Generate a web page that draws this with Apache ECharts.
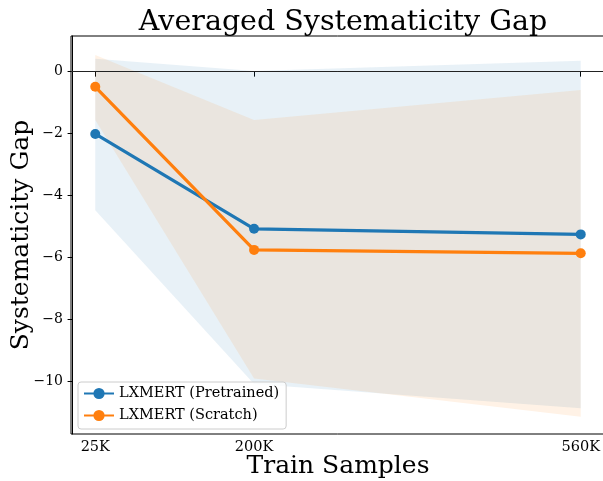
<!DOCTYPE html>
<html>
<head>
<meta charset="utf-8">
<script src="https://cdn.jsdelivr.net/npm/echarts@6/dist/echarts.min.js"></script>
<style>html,body{margin:0;padding:0;background:#fff}#main{width:603px;height:481px}</style>
</head>
<body>
<div id="main"></div>
<script>
// train samples in thousands
var samples = [25, 200, 560];
var pretrainedMean = [-2.01, -5.07, -5.25];
var pretrainedLow = [-4.47, -10.08, -10.86];
var pretrainedHigh = [0.42, 0.02, 0.355];
var scratchMean = [-0.49, -5.75, -5.86];
var scratchLow = [-1.56, -9.9, -11.13];
var scratchHigh = [0.54, -1.56, -0.59];
var xTicks = [25, 200, 560];
var yTicks = [-10, -8, -6, -4, -2, 0];

var serif = 'DejaVu Serif';

function pairs(ys) {
    return samples.map(function (x, i) { return [x, ys[i]]; });
}
// shaded band between lo and hi, drawn as one polygon through the axes
function band(name, lo, hi, color) {
    return {
        name: name, type: 'custom', silent: true, z: 1,
        data: samples.map(function (x, i) { return [x, lo[i], hi[i]]; }),
        encode: {x: 0, y: [1, 2]},
        renderItem: function (params, api) {
            if (params.dataIndex !== 0) return;
            var pts = [];
            samples.forEach(function (x, i) { pts.push(api.coord([x, hi[i]])); });
            for (var i = samples.length - 1; i >= 0; i--) pts.push(api.coord([samples[i], lo[i]]));
            return {type: 'polygon', shape: {points: pts}, style: {fill: color}};
        }
    };
}

var myChart = echarts.init(document.getElementById('main'));
myChart.setOption({
    animation: false,
    title: {
        text: 'Averaged Systematicity Gap',
        left: 338, top: 3, textAlign: 'center',
        textStyle: {fontFamily: serif, fontSize: 28.5, fontWeight: 'normal', color: '#000'}
    },
    grid: {
        left: 71, right: -2, top: 36, bottom: 47,
        outerBoundsMode: 'none',
        show: true, borderColor: '#000', borderWidth: 1
    },
    legend: {
        data: ['LXMERT (Pretrained)', 'LXMERT (Scratch)'],
        orient: 'vertical', left: 78, top: 382,
        itemWidth: 30, itemHeight: 14, itemGap: 7, itemTextGap: 10,
        padding: [4, 7, 6, 5],
        borderColor: '#ccc', borderWidth: 1, borderRadius: 3,
        backgroundColor: 'rgba(255,255,255,0.8)',
        textStyle: {fontFamily: serif, fontSize: 14.5, color: '#000'}
    },
    xAxis: {
        type: 'value', min: -1.75, max: 586.75,
        name: 'Train Samples', nameLocation: 'middle', nameGap: 20, nameMoveOverlap: false,
        nameTextStyle: {fontFamily: serif, fontSize: 25, color: '#000'},
        axisLine: {lineStyle: {color: '#000'}},
        axisTick: {show: true, length: 5, customValues: xTicks, lineStyle: {color: '#000'}},
        axisLabel: {
            customValues: xTicks, margin: 6,
            fontFamily: serif, fontSize: 14.5, color: '#000',
            formatter: function (v) { return v + 'K'; }
        },
        splitLine: {show: false}
    },
    yAxis: {
        type: 'value', min: -11.69, max: 1.15,
        name: 'Systematicity Gap', nameLocation: 'middle', nameGap: 37, nameMoveOverlap: false,
        nameTextStyle: {fontFamily: serif, fontSize: 25, color: '#000'},
        axisLine: {show: true, lineStyle: {color: '#000'}},
        axisTick: {show: true, length: 5, customValues: yTicks, lineStyle: {color: '#000'}},
        axisLabel: {
            customValues: yTicks, margin: 8,
            fontFamily: serif, fontSize: 14, color: '#000',
            formatter: function (v) { return String(v).replace('-', '\u2212'); }
        },
        splitLine: {show: false}
    },
    series: [
        band('pretrained-band', pretrainedLow, pretrainedHigh, 'rgba(31,119,180,0.1)'),
        band('scratch-band', scratchLow, scratchHigh, 'rgba(255,127,14,0.1)'),
        {
            name: 'LXMERT (Pretrained)', type: 'line', data: pairs(pretrainedMean), z: 3,
            color: '#1f77b4', symbol: 'circle', symbolSize: 10,
            lineStyle: {width: 3.2},
            markLine: {
                silent: true, symbol: ['none', 'none'], label: {show: false},
                lineStyle: {color: '#222', width: 1, type: 'solid'},
                data: [{yAxis: 0}]
            }
        },
        {
            name: 'LXMERT (Scratch)', type: 'line', data: pairs(scratchMean), z: 3,
            color: '#ff7f0e', symbol: 'circle', symbolSize: 10,
            lineStyle: {width: 3.2}
        }
    ]
});
</script>
</body>
</html>
